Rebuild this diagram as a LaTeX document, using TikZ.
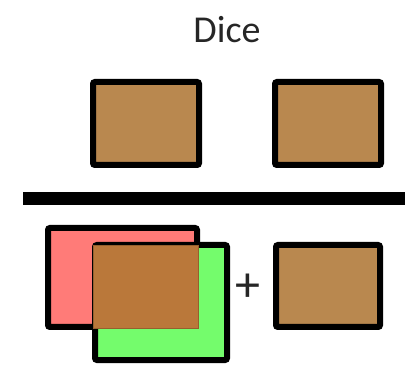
\documentclass[tikz,border=0pt]{standalone}
\usepackage{fontspec}
\setmainfont{Carlito}
\definecolor{diebrown}{HTML}{B9884F}
\definecolor{overbrown}{HTML}{BA783A}
\definecolor{redface}{HTML}{FF7B78}
\definecolor{greenface}{HTML}{74FC6C}
\begin{document}
\begin{tikzpicture}[x=1pt,y=-1pt,
  die/.style={draw=black, line width=6pt, rounded corners=2pt, inner sep=0pt, minimum width=106pt, minimum height=83pt},
  lbl/.style={inner sep=0pt, text=black!85}]
\useasboundingbox (0,0) rectangle (410,366);
\node[lbl, font=\fontsize{38}{40}\selectfont] (title) at (227,30) {Dice};
\node[die, fill=diebrown] (d1) at (146,123.5) {};
\node[die, fill=diebrown] (d2) at (328,123.5) {};
\draw[line width=13pt] (23,198.5) coordinate (barl) -- (405,198.5) coordinate (barr);
\node[die, fill=redface, minimum width=149pt, minimum height=99pt] (red) at (122.5,277.5) {};
\node[die, fill=greenface, minimum width=132pt, minimum height=115pt] (green) at (161,302.5) {};
\node[fill=overbrown, draw=overbrown!80!black, line width=0.6pt, inner sep=0pt, minimum width=105pt, minimum height=83pt] (overlap) at (145.5,286.5) {};
\node[lbl, font=\fontsize{50}{52}\selectfont] (plus) at (248,288) {+};
\node[die, fill=diebrown, minimum width=104pt, minimum height=82pt] (d3) at (328,286) {};
\end{tikzpicture}
\end{document}
